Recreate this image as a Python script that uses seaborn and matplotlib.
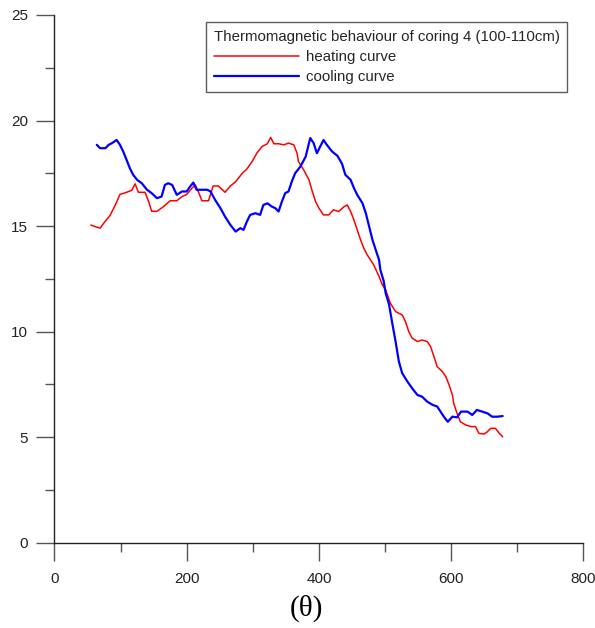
import matplotlib
matplotlib.use("Agg")
import matplotlib.pyplot as plt
from matplotlib.ticker import MultipleLocator
import seaborn as sns
import pandas as pd

# ---- data ----
heat_t = [55, 61, 69, 76, 84, 92, 99, 109, 117, 122, 127, 137, 142, 147, 155, 164, 175, 185,
          193, 200, 208, 213, 218, 223, 228, 233, 240, 248, 258, 266, 274, 284, 291, 299, 306,
          314, 322, 327, 332, 339, 347, 354, 362, 367, 369, 377, 385, 390, 395, 400, 407, 415,
          422, 430, 438, 443, 448, 453, 458, 463, 468, 473, 478, 483, 491, 496, 501, 508, 516,
          526, 531, 536, 541, 549, 556, 564, 569, 574, 579, 587, 592, 597, 602, 604, 609, 614,
          622, 630, 637, 642, 650, 655, 660, 667, 673, 678]
heat_m = [15.05, 14.98, 14.9, 15.2, 15.5, 16.0, 16.5, 16.6, 16.7, 17.0, 16.6, 16.6, 16.2, 15.7,
          15.7, 15.9, 16.2, 16.2, 16.4, 16.5, 16.8, 16.95, 16.6, 16.2, 16.2, 16.2, 16.9, 16.9,
          16.6, 16.9, 17.1, 17.5, 17.7, 18.06, 18.45, 18.77, 18.9, 19.2, 18.9, 18.9, 18.85,
          18.93, 18.85, 18.45, 18.06, 17.66, 17.19, 16.64, 16.16, 15.85, 15.53, 15.53, 15.77,
          15.69, 15.92, 16.0, 15.69, 15.29, 14.82, 14.35, 13.95, 13.64, 13.4, 13.16, 12.61,
          12.21, 11.98, 11.35, 10.95, 10.79, 10.47, 10.0, 9.69, 9.53, 9.6, 9.53, 9.29, 8.82,
          8.34, 8.1, 7.87, 7.47, 7.0, 6.6, 6.13, 5.73, 5.58, 5.5, 5.5, 5.18, 5.15, 5.26, 5.42,
          5.42, 5.18, 5.02]

cool_t = [64, 69, 77, 82, 87, 94, 99, 104, 109, 114, 119, 125, 132, 140, 147, 155, 162, 167,
          172, 178, 185, 193, 200, 205, 210, 215, 223, 231, 236, 243, 251, 258, 266, 274, 281,
          286, 291, 296, 304, 311, 316, 322, 329, 334, 339, 344, 349, 354, 359, 364, 372, 380,
          385, 387, 392, 397, 402, 407, 412, 420, 428, 435, 440, 448, 453, 458, 466, 471, 476,
          481, 486, 491, 493, 498, 501, 506, 511, 516, 521, 526, 534, 541, 549, 556, 564, 572,
          579, 584, 589, 595, 602, 609, 615, 625, 632, 639, 647, 655, 662, 670, 678]
cool_m = [18.85, 18.69, 18.69, 18.85, 18.93, 19.08, 18.85, 18.53, 18.14, 17.74, 17.43, 17.19,
          17.03, 16.72, 16.56, 16.32, 16.4, 16.95, 17.03, 16.95, 16.48, 16.64, 16.64, 16.87,
          17.06, 16.72, 16.72, 16.72, 16.64, 16.24, 15.85, 15.45, 15.06, 14.74, 14.9, 14.82,
          15.21, 15.53, 15.61, 15.53, 16.0, 16.08, 15.92, 15.85, 15.69, 16.16, 16.56, 16.64,
          17.11, 17.5, 17.82, 18.29, 18.93, 19.17, 18.93, 18.45, 18.77, 19.08, 18.85, 18.53,
          18.33, 17.95, 17.43, 17.19, 16.8, 16.48, 16.08, 15.61, 14.98, 14.35, 13.87, 13.4,
          12.92, 12.4, 11.82, 11.3, 10.4, 9.53, 8.58, 8.03, 7.63, 7.32, 7.0, 6.92, 6.68, 6.53,
          6.45, 6.21, 5.97, 5.73, 5.97, 5.94, 6.21, 6.21, 6.05, 6.29, 6.21, 6.13, 5.97, 5.97, 6.0]

legend_title = "Thermomagnetic behaviour of coring 4 (100-110cm)"
x_ticks = [0, 200, 400, 600, 800]
y_ticks = [0, 5, 10, 15, 20, 25]

heat = pd.DataFrame({"T": heat_t, "M": heat_m})
cool = pd.DataFrame({"T": cool_t, "M": cool_m})

sns.set_theme(style="ticks")
plt.rcParams["font.family"] = ["Liberation Sans", "DejaVu Sans"]

fig = plt.figure(figsize=(5.95, 6.28), dpi=100)
ax = fig.add_axes([54.5 / 595, 1 - 542.7 / 628, (583.3 - 54.5) / 595, (542.7 - 15) / 628])

sns.lineplot(data=heat, x="T", y="M", ax=ax, color="#ff0000", linewidth=1.1,
             estimator=None, sort=False, label="heating curve")
sns.lineplot(data=cool, x="T", y="M", ax=ax, color="#0000ff", linewidth=1.6,
             estimator=None, sort=False, label="cooling curve")

ax.set_xlim(0, 800)
ax.set_ylim(0, 25)
ax.set_xticks(x_ticks)
ax.set_yticks(y_ticks)
ax.xaxis.set_minor_locator(MultipleLocator(100))
ax.yaxis.set_minor_locator(MultipleLocator(2.5))
ax.set_xlabel("")
ax.set_ylabel("")
sns.despine(ax=ax)
for s in ["left", "bottom"]:
    ax.spines[s].set_color("#222222")
    ax.spines[s].set_linewidth(1.0)
ax.tick_params(which="major", length=13, width=1.0, color="#555555", labelsize=11,
               labelcolor="#222222")
ax.tick_params(axis="y", which="major", pad=6)
ax.tick_params(axis="x", which="major", pad=8)
ax.tick_params(which="minor", length=6.5, width=1.0, color="#555555")

leg = ax.legend(title=legend_title, loc="upper left",
                bbox_to_anchor=(206 / 595, 1 - 22 / 628), bbox_transform=fig.transFigure,
                fontsize=10.8, title_fontsize=10.8, alignment="left", frameon=True,
                fancybox=False, edgecolor="#333333", handlelength=5.7, handletextpad=0.45,
                borderpad=0.5, labelspacing=0.42, borderaxespad=0)
leg.get_frame().set_linewidth(1.0)

fig.text(306 / 595, 1 - 608 / 628, "(θ)", family=["Liberation Serif", "DejaVu Serif"],
         fontsize=21, ha="center", va="center", color="black")

fig.savefig("out.png", dpi=100, facecolor="white")
